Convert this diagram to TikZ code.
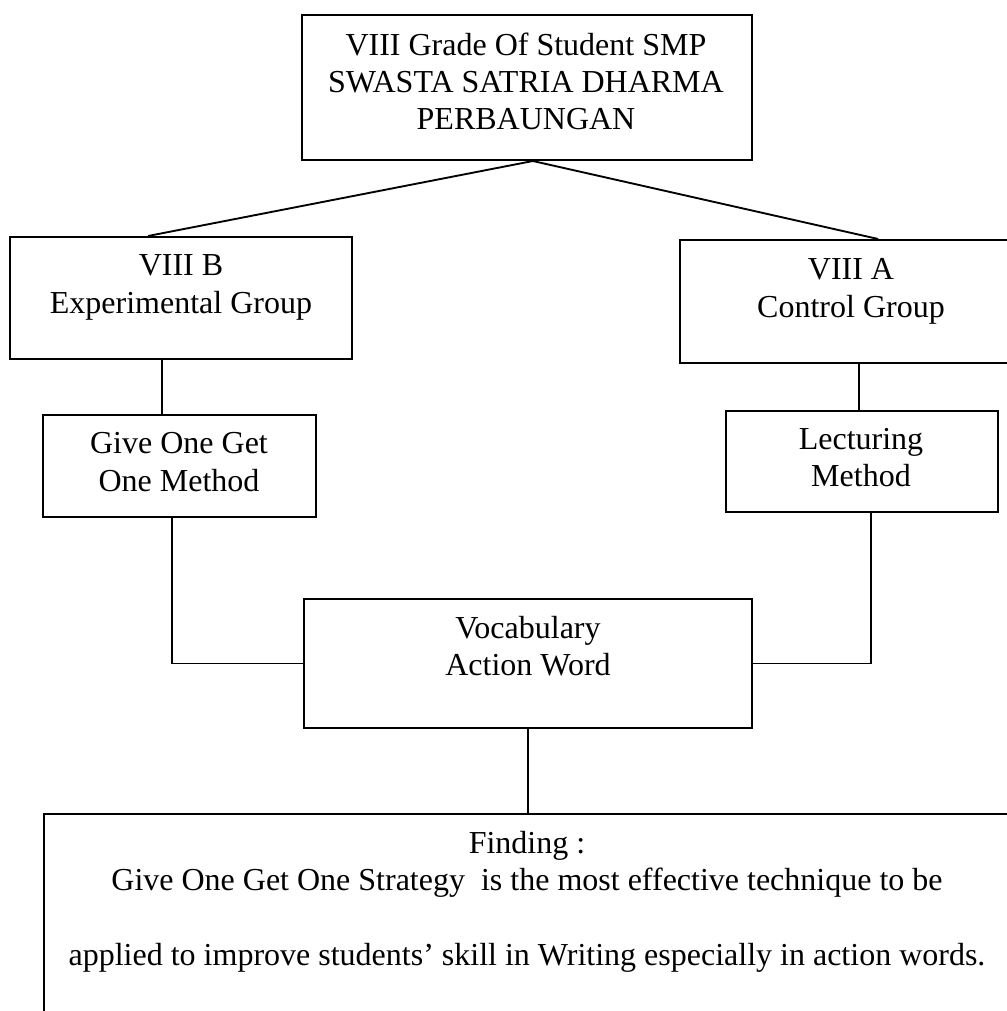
\documentclass[tikz,border=0pt]{standalone}
\usepackage{fontspec}
\setmainfont{Liberation Serif}
\usetikzlibrary{calc,fit}

\begin{document}
\begin{tikzpicture}[x=0.375pt, y=-0.375pt,
    box/.style={draw, rectangle, line width=0.75pt, inner sep=0pt},
    txt/.style={align=center, inner sep=0pt, font=\fontsize{12}{14}\selectfont},
    link/.style={line width=0.7pt}]
    \clip (0,0) rectangle (1007,1011);

    \node (school) [box, fit={(302,15) (752,160)}] {};
    \node (schooltext) [txt] at (526,81.5) {VIII Grade Of Student SMP\\SWASTA SATRIA DHARMA\\PERBAUNGAN};
    \node (expgroup) [box, fit={(10,237) (352,359)}] {};
    \node (expgrouptext) [txt] at (181,287.5) {VIII B\\Experimental Group};
    \node (ctrlgroup) [box, fit={(680,240) (1022,363)}] {};
    \node (ctrlgrouptext) [txt] at (851,291.5) {VIII A\\Control Group};
    \node (gogo) [box, fit={(43,415) (316,517)}] {};
    \node (gogotext) [txt] at (179,462) {Give One Get\\One Method};
    \node (lecture) [box, fit={(726,411) (998,512)}] {};
    \node (lecturetext) [txt] at (861,457.5) {Lecturing\\Method};
    \node (vocab) [box, fit={(304,599) (752,728)}] {};
    \node (vocabtext) [txt] at (528,646) {Vocabulary\\Action Word};
    \node (finding) [box, fit={(44,814) (1012,1030)}] {};
    \node (findingtext) [txt] at (527,901.5) {Finding :\\Give One Get One Strategy~ is the most effective technique to be\\[14pt]applied to improve students’ skill in Writing especially in action words.};

    \coordinate (colexp) at (162,0);
    \coordinate (colctrl) at (859,0);
    \coordinate (colgogo) at (172,0);
    \coordinate (collecture) at (871,0);

    \draw [link] ($(school.south west)!0.513!(school.south east)$) -- ($(expgroup.north west)!0.404!(expgroup.north east)$);
    \draw [link] ($(school.south west)!0.513!(school.south east)$) -- ($(ctrlgroup.north west)!0.579!(ctrlgroup.north east)$);
    \draw [link] (expgroup.south -| colexp) -- (gogo.north -| colexp);
    \draw [link] (ctrlgroup.south -| colctrl) -- (lecture.north -| colctrl);
    \draw [link] (gogo.south -| colgogo) |- (vocab.west);
    \draw [link] (lecture.south -| collecture) |- (vocab.east);
    \draw [link] (vocab.south) -- (finding.north -| vocab.south);
\end{tikzpicture}
\end{document}
